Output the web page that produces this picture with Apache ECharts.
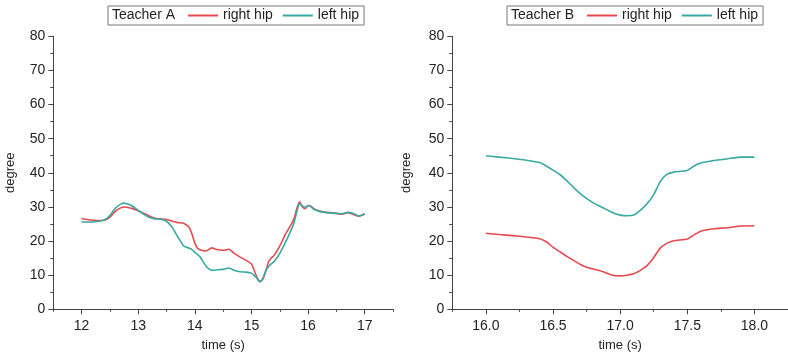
<!DOCTYPE html>
<html>
<head>
<meta charset="utf-8">
<script src="https://cdn.jsdelivr.net/npm/echarts@6/dist/echarts.min.js"></script>
<style>
  html, body { margin: 0; padding: 0; background: #fff; }
  #chart { width: 788px; height: 358px; }
</style>
</head>
<body>
<div id="chart"></div>
<script>
// Hip joint angle over time, two teachers
const timeA = [12.0, 12.1, 12.2, 12.3, 12.4, 12.5, 12.6, 12.7, 12.75, 12.8, 12.9, 13.0, 13.1, 13.2, 13.3, 13.4, 13.5, 13.6, 13.7, 13.8, 13.9, 13.95, 14.0, 14.05, 14.1, 14.2, 14.3, 14.4, 14.5, 14.6, 14.7, 14.8, 14.9, 15.0, 15.05, 15.1, 15.15, 15.2, 15.25, 15.3, 15.35, 15.4, 15.5, 15.6, 15.7, 15.75, 15.8, 15.85, 15.9, 15.95, 16.0, 16.05, 16.1, 16.2, 16.3, 16.4, 16.5, 16.6, 16.7, 16.8, 16.9, 17.0];
const rightHipA = [26.6, 26.3, 26.1, 26.0, 26.1, 27.0, 28.8, 29.8, 30.0, 29.9, 29.5, 28.9, 28.1, 27.3, 26.7, 26.5, 26.3, 25.8, 25.4, 25.2, 24.0, 22.0, 19.4, 17.9, 17.4, 17.1, 18.0, 17.5, 17.3, 17.6, 16.3, 15.3, 14.4, 13.3, 11.3, 9.3, 8.1, 8.8, 11.0, 13.8, 15.0, 15.8, 18.5, 22.0, 24.8, 26.5, 29.5, 31.5, 30.0, 29.5, 30.4, 30.2, 29.5, 28.8, 28.5, 28.3, 28.1, 27.9, 28.3, 27.8, 27.3, 27.9];
const leftHipA = [25.6, 25.6, 25.6, 25.8, 26.2, 27.5, 29.7, 30.9, 31.1, 30.9, 30.2, 29.0, 27.8, 26.9, 26.5, 26.4, 25.8, 24.0, 21.2, 18.6, 17.9, 17.5, 16.7, 16.0, 15.2, 12.6, 11.4, 11.6, 11.7, 12.1, 11.4, 11.0, 10.9, 10.6, 9.9, 9.0, 8.1, 9.0, 11.2, 12.5, 13.3, 14.0, 16.4, 19.6, 23.2, 25.3, 28.5, 31.0, 30.3, 29.9, 30.4, 30.1, 29.3, 28.7, 28.4, 28.2, 28.1, 28.0, 28.4, 28.1, 27.3, 28.0];

const timeB = [16.0, 16.1, 16.2, 16.3, 16.4, 16.45, 16.5, 16.55, 16.6, 16.65, 16.7, 16.75, 16.8, 16.85, 16.9, 16.95, 17.0, 17.05, 17.1, 17.15, 17.2, 17.25, 17.3, 17.35, 17.4, 17.5, 17.55, 17.6, 17.7, 17.8, 17.9, 18.0];
const rightHipB = [22.3, 21.9, 21.6, 21.2, 20.7, 19.8, 18.2, 16.9, 15.6, 14.4, 13.2, 12.3, 11.8, 11.3, 10.6, 9.9, 9.8, 10.0, 10.4, 11.4, 12.8, 15.2, 18.0, 19.4, 20.1, 20.6, 21.8, 22.9, 23.6, 23.9, 24.4, 24.5];
const leftHipB = [45.0, 44.6, 44.2, 43.7, 43.0, 42.0, 40.8, 39.5, 37.8, 35.8, 34.0, 32.5, 31.2, 30.2, 29.2, 28.2, 27.6, 27.4, 27.6, 29.0, 30.9, 33.6, 37.5, 39.6, 40.2, 40.7, 42.0, 42.9, 43.6, 44.1, 44.6, 44.6];

// Tick positions
const majorTicksA = [12, 13, 14, 15, 16, 17];
const minorTicksA = [11.5, 12.5, 13.5, 14.5, 15.5, 16.5, 17.5];
const majorTicksB = [16.0, 16.5, 17.0, 17.5, 18.0];
const minorTicksB = [15.75, 16.25, 16.75, 17.25, 17.75];

const RED = '#e64a4e';
const TEAL = '#37a9a0';
const AXIS = '#444';
const TEXT = '#222';
const FONT = '"Liberation Sans", Arial, sans-serif';

const zip = (xs, ys) => xs.map((x, i) => [x, ys[i]]);

function xAxes(gridIndex, min, max, majors, minors, labelFmt) {
  return [
    {
      type: 'value', gridIndex, min, max, position: 'bottom',
      name: 'time (s)', nameLocation: 'middle', nameGap: 30,
      nameTextStyle: { fontFamily: FONT, fontSize: 13, color: TEXT },
      axisLine: { show: true, lineStyle: { color: AXIS, width: 1 } },
      axisTick: { show: true, length: 5, customValues: majors, lineStyle: { color: AXIS } },
      axisLabel: { show: true, customValues: majors, margin: 10, fontFamily: FONT, fontSize: 14, color: TEXT, formatter: labelFmt },
      splitLine: { show: false }
    },
    {
      type: 'value', gridIndex, min, max, position: 'bottom',
      axisLine: { show: false },
      axisTick: { show: true, length: 2.5, customValues: minors, lineStyle: { color: AXIS } },
      axisLabel: { show: false },
      splitLine: { show: false }
    }
  ];
}

function yAxis(gridIndex, nameGap) {
  return {
    type: 'value', gridIndex, min: 0, max: 80, interval: 10,
    name: 'degree', nameLocation: 'middle', nameGap,
    nameTextStyle: { fontFamily: FONT, fontSize: 13, color: TEXT },
    axisLine: { show: true, lineStyle: { color: AXIS, width: 1 } },
    axisTick: { show: true, length: 5, lineStyle: { color: AXIS } },
    minorTick: { show: true, splitNumber: 2, length: 3, lineStyle: { color: AXIS } },
    axisLabel: { margin: 8, fontFamily: FONT, fontSize: 14, color: TEXT },
    splitLine: { show: false }
  };
}

function line(name, color, xAxisIndex, yAxisIndex, data) {
  return {
    type: 'line', name, xAxisIndex, yAxisIndex, data,
    symbol: 'none', smooth: 0.2,
    lineStyle: { color, width: 1.6 },
    itemStyle: { color },
    emphasis: { disabled: true }
  };
}

function legend(left) {
  return {
    left, top: 6,
    orient: 'horizontal',
    padding: [1, 5, 1, 80],
    borderColor: '#777', borderWidth: 1,
    icon: 'rect',
    itemWidth: 30, itemHeight: 2, itemGap: 10,
    textStyle: { fontFamily: FONT, fontSize: 14, color: TEXT, lineHeight: 17 },
    data: ['right hip', 'left hip'],
    selectedMode: false
  };
}

const chart = echarts.init(document.getElementById('chart'), null, { renderer: 'canvas' });
chart.setOption({
  animation: false,
  backgroundColor: '#fff',
  title: [
    { text: 'Teacher A', left: 112, top: 8, padding: 0, z: 10,
      textStyle: { fontFamily: FONT, fontSize: 14, fontWeight: 'normal', color: TEXT } },
    { text: 'Teacher B', left: 511, top: 8, padding: 0, z: 10,
      textStyle: { fontFamily: FONT, fontSize: 14, fontWeight: 'normal', color: TEXT } }
  ],
  legend: [legend(108), legend(507)],
  grid: [
    { left: 53.3, right: 395, top: 36.3, bottom: 48.7, containLabel: false },
    { left: 452.3, right: -3, top: 36.3, bottom: 48.7, containLabel: false }
  ],
  xAxis: [
    ...xAxes(0, 11.5, 17.5, majorTicksA, minorTicksA, v => String(v)),
    ...xAxes(1, 15.75, 18.25, majorTicksB, minorTicksB, v => v.toFixed(1))
  ],
  yAxis: [yAxis(0, 36), yAxis(1, 39)],
  series: [
    line('right hip', RED, 0, 0, zip(timeA, rightHipA)),
    line('left hip', TEAL, 0, 0, zip(timeA, leftHipA)),
    line('right hip', RED, 2, 1, zip(timeB, rightHipB)),
    line('left hip', TEAL, 2, 1, zip(timeB, leftHipB))
  ]
});
</script>
</body>
</html>
